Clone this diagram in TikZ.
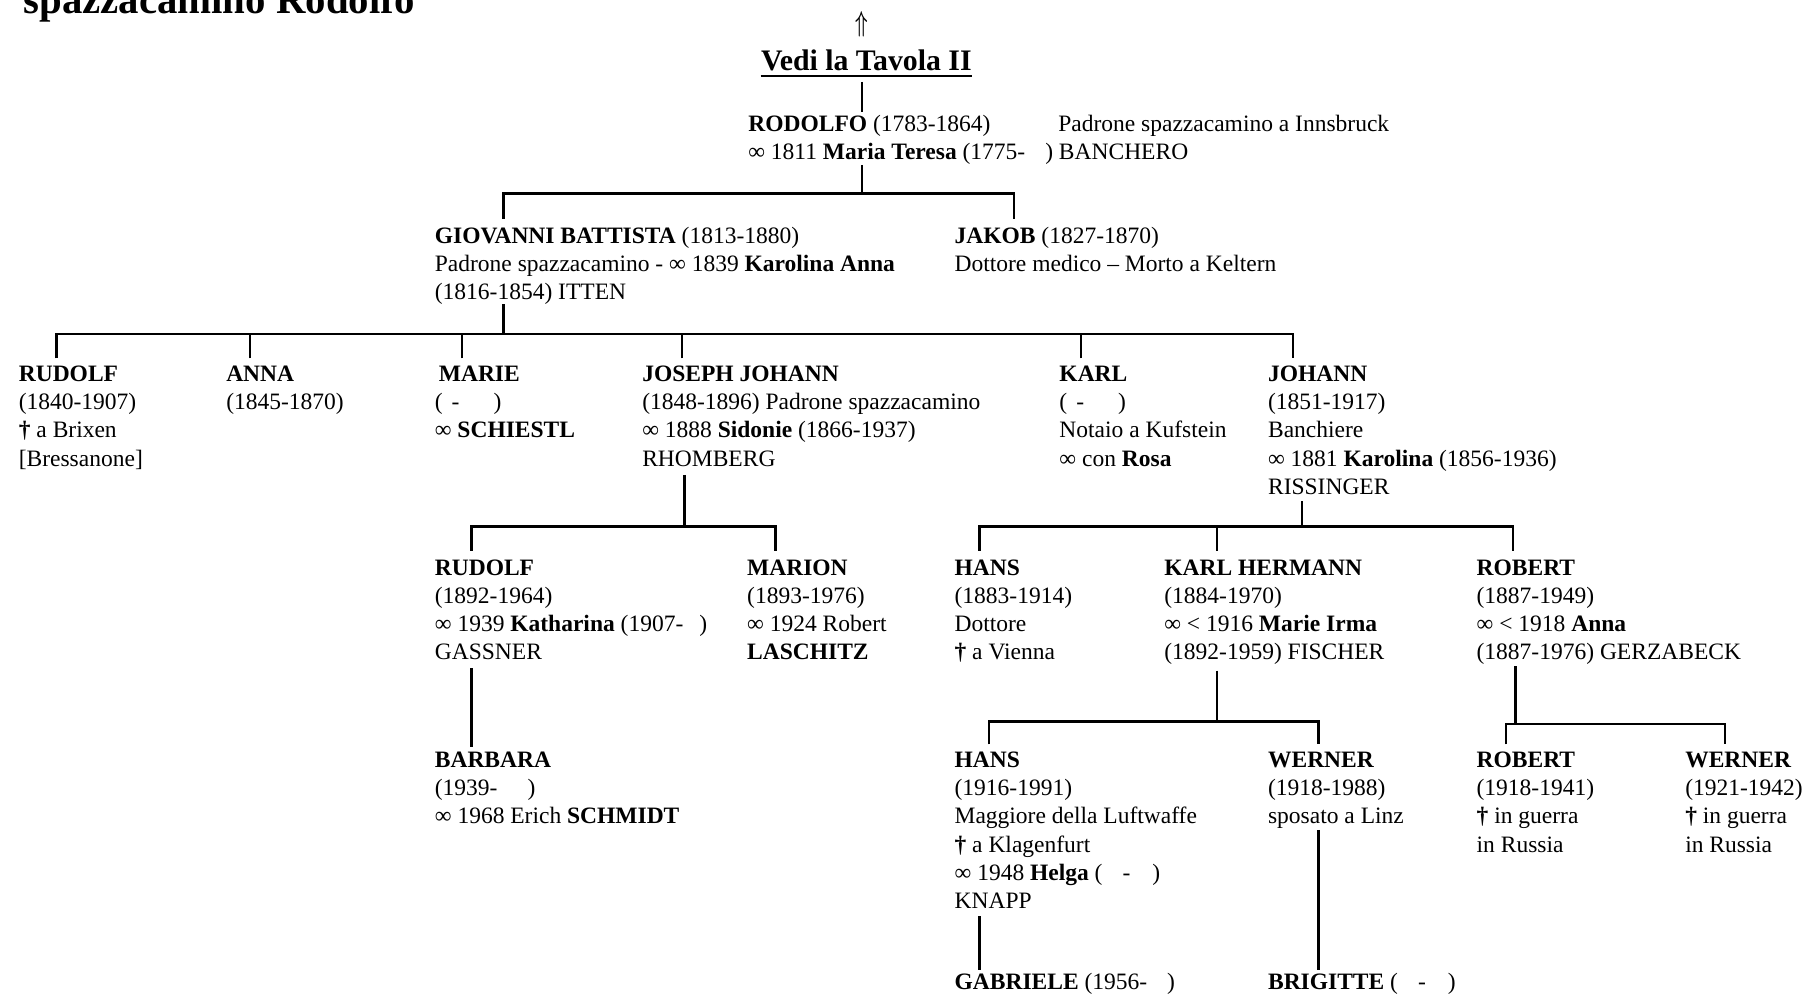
\documentclass[tikz,border=0pt]{standalone}
\usepackage{fontspec}
\setmainfont{Liberation Serif}
\usepackage{graphicx}
\newcommand{\famnode}[4]{\node[pers] (#1) at (#2,#3) {\begin{tabular}[t]{@{}l@{}}#4\end{tabular}};}
\newcommand{\ndA}{(\hspace{4.5pt}-\hspace{17pt})}
\newcommand{\ndB}{(\hspace{10pt}-\hspace{11pt})}
\tikzset{
  pers/.style={anchor=base west, inner sep=0pt, font=\fontsize{11.75}{14.1}\selectfont},
  conn/.style={line width=1.2pt},
}
\begin{document}
\begin{tikzpicture}[x=0.5762pt, y=-0.5762pt]
\useasboundingbox (0,0) rectangle (1568,862);
\fill[white] (0,0) rectangle (1568,862);
\clip (0,0) rectangle (1568,862);

% title (cut at top)
\node[anchor=base west, inner sep=0pt, font=\fontsize{20.4}{24}\selectfont\bfseries] (title) at (20,11.5) {spazzacamino Rodolfo};

% top reference
\node[inner sep=0pt, font=\fontsize{13.5}{15}\selectfont\boldmath] (up) at (748,21) {\scalebox{0.62}[1]{$\Uparrow$}};
\node[anchor=base west, inner sep=0pt, font=\fontsize{14.9}{17}\selectfont\bfseries] (tav) at (660,61) {Vedi la Tavola II};
\draw[line width=1pt] ([yshift=-2.9pt]tav.base west) -- ([yshift=-2.9pt]tav.base east);

% row 0
\famnode{rodolfo}{649}{114}{\textbf{RODOLFO} (1783-1864)\\ ∞ 1811 \textbf{Maria Teresa} (1775-\hspace{10pt}) BANCHERO}
\famnode{rodnote}{918}{114}{Padrone spazzacamino a Innsbruck}

% row 1
\famnode{gb}{377}{211}{\textbf{GIOVANNI BATTISTA} (1813-1880)\\Padrone spazzacamino - ∞ 1839 \textbf{Karolina Anna}\\(1816-1854) ITTEN}
\famnode{jakob}{828}{211}{\textbf{JAKOB} (1827-1870)\\Dottore medico – Morto a Keltern}

% row 2
\famnode{rud1}{16}{331}{\textbf{RUDOLF}\\(1840-1907)\\\textbf{†} a Brixen\\{[}Bressanone{]}}
\famnode{anna}{196}{331}{\textbf{ANNA}\\(1845-1870)}
\famnode{marie}{377}{331}{\hspace{2pt}\textbf{MARIE}\\\ndA\\∞ \textbf{SCHIESTL}}
\famnode{jj}{557}{331}{\textbf{JOSEPH JOHANN}\\(1848-1896) Padrone spazzacamino\\∞ 1888 \textbf{Sidonie} (1866-1937)\\RHOMBERG}
\famnode{karl}{919}{331}{\textbf{KARL}\\\ndA\\Notaio a Kufstein\\∞ con \textbf{Rosa}}
\famnode{johann}{1100}{331}{\textbf{JOHANN}\\(1851-1917)\\Banchiere\\∞ 1881 \textbf{Karolina} (1856-1936)\\RISSINGER}

% row 3
\famnode{rud2}{377}{499}{\textbf{RUDOLF}\\(1892-1964)\\∞ 1939 \textbf{Katharina} (1907-\hspace{8pt})\\GASSNER}
\famnode{marion}{648}{499}{\textbf{MARION}\\(1893-1976)\\∞ 1924 Robert\\\textbf{LASCHITZ}}
\famnode{hans1}{828}{499}{\textbf{HANS}\\(1883-1914)\\Dottore\\\textbf{†} a Vienna}
\famnode{kh}{1010}{499}{\textbf{KARL HERMANN}\\(1884-1970)\\∞ < 1916 \textbf{Marie Irma}\\(1892-1959) FISCHER}
\famnode{rob1}{1281}{499}{\textbf{ROBERT}\\(1887-1949)\\∞ < 1918 \textbf{Anna}\\(1887-1976) GERZABECK}

% row 4
\famnode{barbara}{377}{666}{\textbf{BARBARA}\\(1939-\hspace{15pt})\\∞ 1968 Erich \textbf{SCHMIDT}}
\famnode{hans2}{828}{666}{\textbf{HANS}\\(1916-1991)\\Maggiore della Luftwaffe\\\textbf{†} a Klagenfurt\\∞ 1948 \textbf{Helga} \ndB\\KNAPP}
\famnode{wer1}{1100}{666}{\textbf{WERNER}\\(1918-1988)\\sposato a Linz}
\famnode{rob2}{1281}{666}{\textbf{ROBERT}\\(1918-1941)\\\textbf{†} in guerra\\in Russia}
\famnode{wer2}{1462}{666}{\textbf{WERNER}\\(1921-1942)\\\textbf{†} in guerra\\in Russia}

% row 5
\famnode{gabriele}{828}{859}{\textbf{GABRIELE} (1956-\hspace{10pt})}
\famnode{brigitte}{1100}{859}{\textbf{BRIGITTE} \ndB}

% junction coordinates
\coordinate (tav-out) at (748,71);
\coordinate (rod-in) at (748,97);
\coordinate (rod-out) at (748,143);
\coordinate (rod-bar) at (748,168);
\coordinate (gb-in) at (437,190);
\coordinate (jak-in) at (880,190);

\coordinate (gb-out) at (437,264);
\coordinate (gb-bar) at (437,290);
\coordinate (rud1-in) at (49,311);
\coordinate (anna-in) at (217,311);
\coordinate (marie-in) at (401,311);
\coordinate (jj-in) at (592,311);
\coordinate (karl-in) at (938,311);
\coordinate (joh-in) at (1122,311);

\coordinate (jj-out) at (594,412);
\coordinate (jj-bar) at (594,457);
\coordinate (rud2-in) at (409,478);
\coordinate (marion-in) at (673,478);

\coordinate (joh-out) at (1130,435);
\coordinate (joh-bar) at (1130,457);
\coordinate (hans1-in) at (850,478);
\coordinate (kh-in) at (1056,478);
\coordinate (rob1-in) at (1313,478);

\coordinate (rud2-out) at (409,580);
\coordinate (barb-in) at (409,648);

\coordinate (kh-out) at (1056,582);
\coordinate (kh-bar) at (1056,626);
\coordinate (hans2-in) at (858,646);
\coordinate (wer1-in) at (1144,646);

\coordinate (rob1-out) at (1315,578);
\coordinate (rob1-bar) at (1315,628);
\coordinate (rob2-in) at (1307,646);
\coordinate (wer2-in) at (1497,646);

\coordinate (hans2-out) at (850,795);
\coordinate (gab-in) at (850,842);
\coordinate (wer1-out) at (1144,720);
\coordinate (brig-in) at (1144,842);

% connectors
\draw[conn] (tav-out) -- (rod-in);
\draw[conn] (rod-out) -- (rod-bar);
\draw[conn] (gb-in) |- (rod-bar) -| (jak-in);

\draw[conn] (gb-out) -- (gb-bar);
\draw[conn] (rud1-in) |- (gb-bar) -| (joh-in);
\draw[conn] (anna-in) -- (anna-in |- gb-bar);
\draw[conn] (marie-in) -- (marie-in |- gb-bar);
\draw[conn] (jj-in) -- (jj-in |- gb-bar);
\draw[conn] (karl-in) -- (karl-in |- gb-bar);

\draw[conn] (jj-out) -- (jj-bar);
\draw[conn] (rud2-in) |- (jj-bar) -| (marion-in);

\draw[conn] (joh-out) -- (joh-bar);
\draw[conn] (hans1-in) |- (joh-bar) -| (rob1-in);
\draw[conn] (kh-in) -- (kh-in |- joh-bar);

\draw[conn] (rud2-out) -- (barb-in);

\draw[conn] (kh-out) -- (kh-bar);
\draw[conn] (hans2-in) |- (kh-bar) -| (wer1-in);

\draw[conn] (rob1-out) -- (rob1-bar);
\draw[conn] (rob2-in) |- (rob1-bar) -| (wer2-in);

\draw[conn] (hans2-out) -- (gab-in);
\draw[conn] (wer1-out) -- (brig-in);
\end{tikzpicture}
\end{document}
